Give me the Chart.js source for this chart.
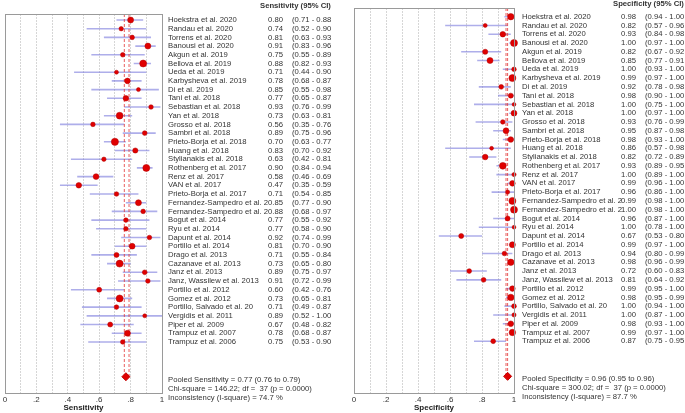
<!DOCTYPE html>
<html>
<head>
<meta charset="UTF-8">
<title>Forest plot - Sensitivity / Specificity</title>
<style type="text/css">
  body { margin: 0; background: #fff; }
  #wrap { position: relative; width: 685px; height: 413px; }
  #sens { position: absolute; left: 0; top: 0; }
  #spec { position: absolute; left: 340px; top: 0; }
</style>
<script type="text/javascript" src="https://cdn.jsdelivr.net/npm/chart.js@4.4.1/dist/chart.umd.min.js"></script>
<script>
// study names (same order in both panels)
var studies = [
  'Hoekstra et al. 2020', 'Randau et al. 2020', 'Torrens et al. 2020', 'Banousi et al. 2020',
  'Akgun et al. 2019', 'Bellova et al. 2019', 'Ueda et al. 2019', 'Karbysheva et al. 2019',
  'Di et al. 2019', 'Tani et al. 2018', 'Sebastian et al. 2018', 'Yan et al. 2018',
  'Grosso et al. 2018', 'Sambri et al. 2018', 'Prieto-Borja et al. 2018', 'Huang et al. 2018',
  'Stylianakis et al. 2018', 'Rothenberg et al. 2017', 'Renz et al. 2017', 'VAN et al. 2017',
  'Prieto-Borja et al. 2017', 'Fernandez-Sampedro et al. 2', 'Fernandez-Sampedro et al. 2', 'Bogut et al. 2014',
  'Ryu et al. 2014', 'Dapunt et al. 2014', 'Portillo et al. 2014', 'Drago et al. 2013',
  'Cazanave et al. 2013', 'Janz et al. 2013', 'Janz, Wassilew et al. 2013', 'Portillo et al. 2012',
  'Gomez et al. 2012', 'Portillo, Salvado et al. 20', 'Vergidis et al. 2011', 'Piper et al. 2009',
  'Trampuz et al. 2007', 'Trampuz et al. 2006'
];

var sensVal = [0.80,0.74,0.81,0.91,0.75,0.88,0.71,0.78,0.85,0.77,0.93,0.73,0.56,0.89,0.70,0.83,0.63,0.90,0.58,0.47,
               0.71,0.85,0.88,0.77,0.77,0.92,0.81,0.71,0.73,0.89,0.91,0.60,0.73,0.71,0.89,0.67,0.78,0.75];
var sensLo  = [0.71,0.52,0.63,0.83,0.55,0.82,0.44,0.68,0.55,0.65,0.76,0.63,0.35,0.75,0.63,0.70,0.42,0.84,0.46,0.35,
               0.54,0.77,0.68,0.55,0.58,0.74,0.70,0.55,0.65,0.75,0.72,0.42,0.65,0.49,0.52,0.48,0.68,0.53];
var sensHi  = [0.88,0.90,0.93,0.96,0.89,0.93,0.90,0.87,0.98,0.87,0.99,0.81,0.76,0.96,0.77,0.92,0.81,0.94,0.69,0.59,
               0.85,0.90,0.97,0.92,0.90,0.99,0.90,0.84,0.80,0.97,0.99,0.76,0.81,0.87,1.00,0.82,0.87,0.90];
// marker radius (study weight)
var sensSize = [3.0,2.2,2.3,3.0,2.3,3.5,2.0,2.8,2.0,2.8,2.3,3.4,2.3,2.4,3.6,2.6,2.2,3.5,2.9,2.8,
                2.3,3.0,2.3,2.3,2.3,2.3,2.9,2.5,3.5,2.4,2.3,2.5,3.5,2.3,2.0,2.5,3.0,2.3];

var specVal = [0.98,0.82,0.93,1.00,0.82,0.85,1.00,0.99,0.92,0.98,1.00,1.00,0.93,0.95,0.98,0.86,0.82,0.93,1.00,0.99,
               0.96,0.99,1.00,0.96,1.00,0.67,0.99,0.94,0.98,0.72,0.81,0.99,0.98,1.00,1.00,0.98,0.99,0.87];
var specLo  = [0.94,0.57,0.84,0.97,0.67,0.77,0.93,0.97,0.78,0.90,0.75,0.97,0.76,0.87,0.93,0.57,0.72,0.89,0.89,0.96,
               0.86,0.98,0.98,0.87,0.78,0.53,0.97,0.80,0.96,0.60,0.64,0.95,0.95,0.94,0.87,0.93,0.97,0.75];
var specHi  = [1.00,0.96,0.98,1.00,0.92,0.91,1.00,1.00,0.98,1.00,1.00,1.00,0.99,0.98,1.00,0.98,0.89,0.95,1.00,1.00,
               1.00,1.00,1.00,1.00,1.00,0.80,1.00,0.99,0.99,0.83,0.92,1.00,0.99,1.00,1.00,1.00,1.00,0.95];
var specSize = [3.2,2.0,2.8,3.5,2.6,3.0,2.3,3.5,2.4,2.5,1.9,2.9,2.3,2.9,2.8,1.9,2.8,3.4,2.1,2.8,
                2.1,3.5,3.5,2.5,1.9,2.5,3.0,2.3,3.2,2.4,2.4,2.8,3.2,2.4,2.1,2.8,3.2,2.4];

// pooled estimate, lower, upper
var sensPooled = [0.77, 0.76, 0.79];
var specPooled = [0.96, 0.95, 0.96];
var pooledRow = 41;

var sensStats = ['Pooled Sensitivity = 0.77 (0.76 to 0.79)',
                 'Chi-square = 146.22; df =  37 (p = 0.0000)',
                 'Inconsistency (I-square) = 74.7 %'];
var specStats = ['Pooled Specificity = 0.96 (0.95 to 0.96)',
                 'Chi-square = 300.02; df =  37 (p = 0.0000)',
                 'Inconsistency (I-square) = 87.7 %'];

var tickVals = [0, 0.2, 0.4, 0.6, 0.8, 1];
var tickLabels = ['0', '.2', '.4', '.6', '.8', '1'];

var FONT = "'Liberation Sans', Arial, sans-serif";

function fmt(v) { return v.toFixed(2); }

function makePanel(id, p) {
  var ciData = [];
  var ptData = [];
  for (var i = 0; i < studies.length; i++) {
    ciData.push({x: p.lo[i], y: i}, {x: p.hi[i], y: i}, {x: null, y: null});
    ptData.push({x: p.val[i], y: i});
  }

  var textPlugin = {
    id: 'forestText',
    afterDraw: function(chart) {
      var ctx = chart.ctx, a = chart.chartArea, ys = chart.scales.y;
      ctx.save();
      ctx.strokeStyle = '#9a9a9a';
      ctx.lineWidth = 1;
      ctx.strokeRect(Math.round(a.left) + 0.5, Math.round(a.top) + 0.5,
                     Math.round(a.right - a.left), Math.round(a.bottom - a.top));
      ctx.fillStyle = '#333';
      ctx.textBaseline = 'middle';
      ctx.font = 'bold 7.7px ' + FONT;
      ctx.fillText(p.header, p.headerX, p.headerY);
      ctx.font = '7.7px ' + FONT;
      for (var i = 0; i < studies.length; i++) {
        var y = ys.getPixelForValue(i);
        ctx.fillText(studies[i], p.nameX, y);
        ctx.fillText(fmt(p.val[i]), p.valX, y);
        ctx.fillText('(' + fmt(p.lo[i]) + ' - ' + fmt(p.hi[i]), p.ciX, y);
      }
      var py = ys.getPixelForValue(pooledRow);
      for (var k = 0; k < p.stats.length; k++) {
        ctx.fillText(p.stats[k], p.nameX, py + 3 + k * 9);
      }
      ctx.restore();
    }
  };

  new Chart(document.getElementById(id), {
    type: 'scatter',
    data: {
      datasets: [
        { data: ptData, pointRadius: p.size, pointBackgroundColor: '#e00000',
          pointBorderColor: '#b00000', pointBorderWidth: 0.5, clip: false, order: 0 },
        { data: [{x: p.pooled[0], y: pooledRow}], pointStyle: 'rectRot', pointRadius: 4,
          pointBackgroundColor: '#e00000', pointBorderColor: '#c00000', clip: false, order: 0 },
        { data: ciData, showLine: true, spanGaps: false, pointRadius: 0,
          borderColor: 'rgba(120,120,220,0.6)', borderWidth: 1.6, clip: false, order: 2 },
        { data: [{x: p.pooled[1], y: p.yMin}, {x: p.pooled[1], y: pooledRow}], showLine: true,
          pointRadius: 0, borderColor: 'rgba(225,40,40,0.75)', borderWidth: 1, borderDash: [3, 2], order: 1 },
        { data: [{x: p.pooled[2], y: p.yMin}, {x: p.pooled[2], y: pooledRow}], showLine: true,
          pointRadius: 0, borderColor: 'rgba(225,40,40,0.75)', borderWidth: 1, borderDash: [3, 2], order: 1 }
      ]
    },
    options: {
      responsive: false,
      animation: false,
      events: [],
      layout: { padding: { left: p.padLeft, right: p.padRight, top: p.padTop, bottom: 0 } },
      plugins: { legend: { display: false }, tooltip: { enabled: false } },
      scales: {
        x: {
          type: 'linear', min: 0, max: 1,
          afterFit: function(s) { s.height = 20; },
          grid: { color: '#d6d6d6', lineWidth: 1, drawTicks: false },
          border: { display: false, dash: [2, 1] },
          ticks: {
            stepSize: 0.1, autoSkip: false, maxRotation: 0, padding: 2,
            color: '#333', font: { size: 8, family: FONT },
            callback: function(v) {
              var idx = tickVals.findIndex(function(t) { return Math.abs(t - v) < 1e-6; });
              return idx >= 0 ? tickLabels[idx] : '';
            }
          },
          title: { display: true, text: p.title, padding: 0, color: '#222',
                   font: { size: 8, weight: 'bold', family: FONT } }
        },
        y: { type: 'linear', reverse: true, min: p.yMin, max: p.yMax, display: false }
      }
    },
    plugins: [textPlugin]
  });
}

window.onload = function() {
  makePanel('sens', {
    val: sensVal, lo: sensLo, hi: sensHi, size: sensSize, pooled: sensPooled, stats: sensStats,
    header: 'Sensitivity (95% CI)', title: 'Sensitivity',
    yMin: -0.69, yMax: 42.87, padLeft: 3, padRight: 178, padTop: 14,
    nameX: 168, valX: 268, ciX: 292, headerX: 260, headerY: 6
  });
  makePanel('spec', {
    val: specVal, lo: specLo, hi: specHi, size: specSize, pooled: specPooled, stats: specStats,
    header: 'Specificity (95% CI)', title: 'Specificity',
    yMin: -0.99, yMax: 42.9, padLeft: 14, padRight: 171, padTop: 8,
    nameX: 182, valX: 281, ciX: 305, headerX: 273, headerY: 4
  });
};
</script>
</head>
<body>
<div id="wrap">
  <canvas id="sens" width="340" height="413"></canvas>
  <canvas id="spec" width="345" height="413"></canvas>
</div>
</body>
</html>
